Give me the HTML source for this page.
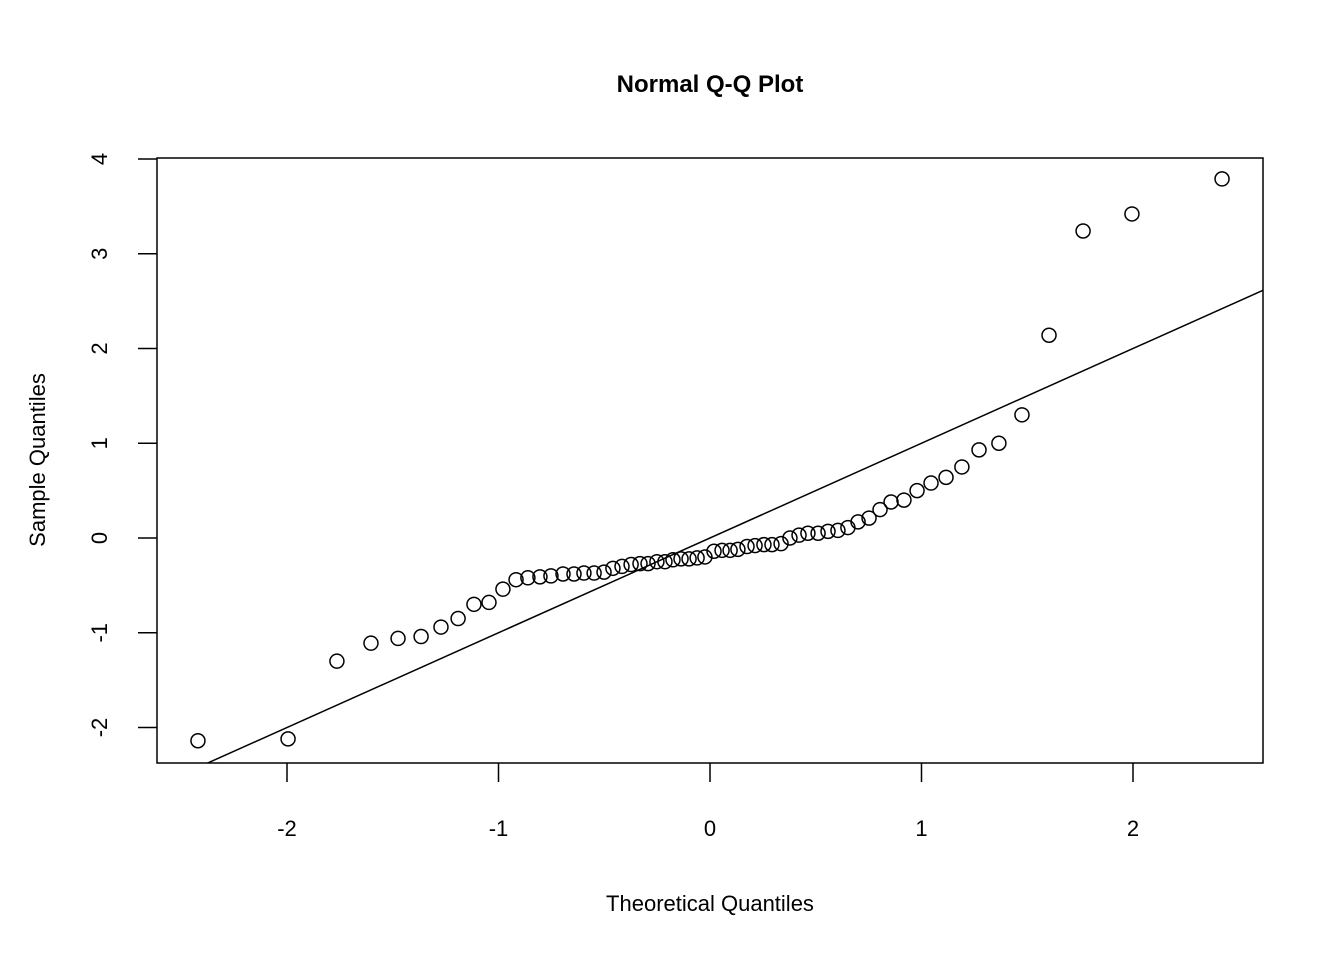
<!DOCTYPE html>
<html><head><meta charset="utf-8"><style>
html,body{margin:0;padding:0;background:#fff;}
svg{display:block;font-family:"Liberation Sans",Arial,sans-serif;}
</style></head><body>
<svg id="chart" width="1344" height="960" viewBox="0 0 1344 960" xmlns="http://www.w3.org/2000/svg">
<text x="710" y="92" text-anchor="middle" font-size="24" font-weight="bold">Normal Q-Q Plot</text>
<rect x="157" y="158" width="1106" height="605" fill="none" stroke="#000" stroke-width="1.5"/>
<g id="xaxis"></g>
<g id="yaxis"></g>
<text x="710" y="911" text-anchor="middle" font-size="22">Theoretical Quantiles</text>
<text transform="translate(45,460) rotate(-90)" text-anchor="middle" font-size="22">Sample Quantiles</text>
<g id="marks"></g>
</svg>
<script>
const xTicks = [-2, -1, 0, 1, 2];
const yTicks = [-2, -1, 0, 1, 2, 3, 4];
const theoretical = [-2.421,-1.995,-1.764,-1.603,-1.475,-1.366,-1.272,-1.191,-1.116,-1.045,-0.979,-0.917,-0.861,-0.804,-0.752,-0.695,-0.643,-0.596,-0.548,-0.501,-0.459,-0.416,-0.373,-0.331,-0.293,-0.251,-0.213,-0.175,-0.137,-0.099,-0.061,-0.024,0.019,0.057,0.095,0.132,0.175,0.213,0.255,0.293,0.336,0.378,0.421,0.463,0.511,0.558,0.605,0.652,0.700,0.752,0.804,0.856,0.917,0.979,1.045,1.116,1.191,1.272,1.366,1.475,1.603,1.764,1.995,2.421];
const sample = [-2.14,-2.12,-1.30,-1.11,-1.06,-1.04,-0.94,-0.85,-0.70,-0.68,-0.54,-0.44,-0.42,-0.41,-0.40,-0.38,-0.38,-0.37,-0.37,-0.36,-0.32,-0.30,-0.28,-0.27,-0.27,-0.25,-0.25,-0.23,-0.22,-0.22,-0.21,-0.20,-0.14,-0.13,-0.13,-0.12,-0.09,-0.08,-0.07,-0.07,-0.06,0.00,0.03,0.05,0.05,0.07,0.08,0.11,0.17,0.21,0.30,0.38,0.40,0.50,0.58,0.64,0.75,0.93,1.00,1.30,2.14,3.24,3.42,3.79];
const lineIntercept = 0.0;
const lineSlope = 1.0;

const NS = "http://www.w3.org/2000/svg";
const X0 = 710, XS = 211.5, Y0 = 538, YS = 94.75;
const L = 157, R = 1263, T = 158, B = 763;
function sx(v){ return X0 + v*XS; }
function sy(v){ return Y0 - v*YS; }
function mk(tag, attrs, parent){
  const e = document.createElementNS(NS, tag);
  for (const k in attrs) e.setAttribute(k, attrs[k]);
  parent.appendChild(e); return e;
}
const xa = document.getElementById('xaxis');
const ya = document.getElementById('yaxis');
const marks = document.getElementById('marks');

xTicks.forEach(t => {
  const l = mk('line', {x1:sx(t), x2:sx(t), y1:B, y2:B+19, stroke:'#000', 'stroke-width':1.5}, xa);
  
  
  const tx = mk('text', {x:sx(t), y:836, 'text-anchor':'middle', 'font-size':22}, xa);
  
  
  tx.textContent = String(t);
});
yTicks.forEach(t => {
  const l = mk('line', {x1:L-19, x2:L, y1:sy(t), y2:sy(t), stroke:'#000', 'stroke-width':1.5}, ya);
  
  
  const tx = mk('text', {transform:`translate(107,${sy(t)}) rotate(-90)`, 'text-anchor':'middle', 'font-size':22}, ya);
  
  
  tx.textContent = String(t);
});

// clip path for reference line
const defs = mk('defs', {}, marks);
const cp = mk('clipPath', {id:'clip'}, defs);
mk('rect', {x:L, y:T, width:R-L, height:B-T}, cp);
const xl = (L - X0)/XS, xr = (R - X0)/XS;
const ref = mk('line', {x1:sx(xl), y1:sy(lineIntercept+lineSlope*xl), x2:sx(xr), y2:sy(lineIntercept+lineSlope*xr), stroke:'#000', 'stroke-width':1.5, 'clip-path':'url(#clip)'}, marks);



theoretical.forEach((x, i) => {
  const c = mk('circle', {cx:sx(x), cy:sy(sample[i]), r:7, fill:'none', stroke:'#000', 'stroke-width':1.5}, marks);
  
  
});
</script>
</body></html>
